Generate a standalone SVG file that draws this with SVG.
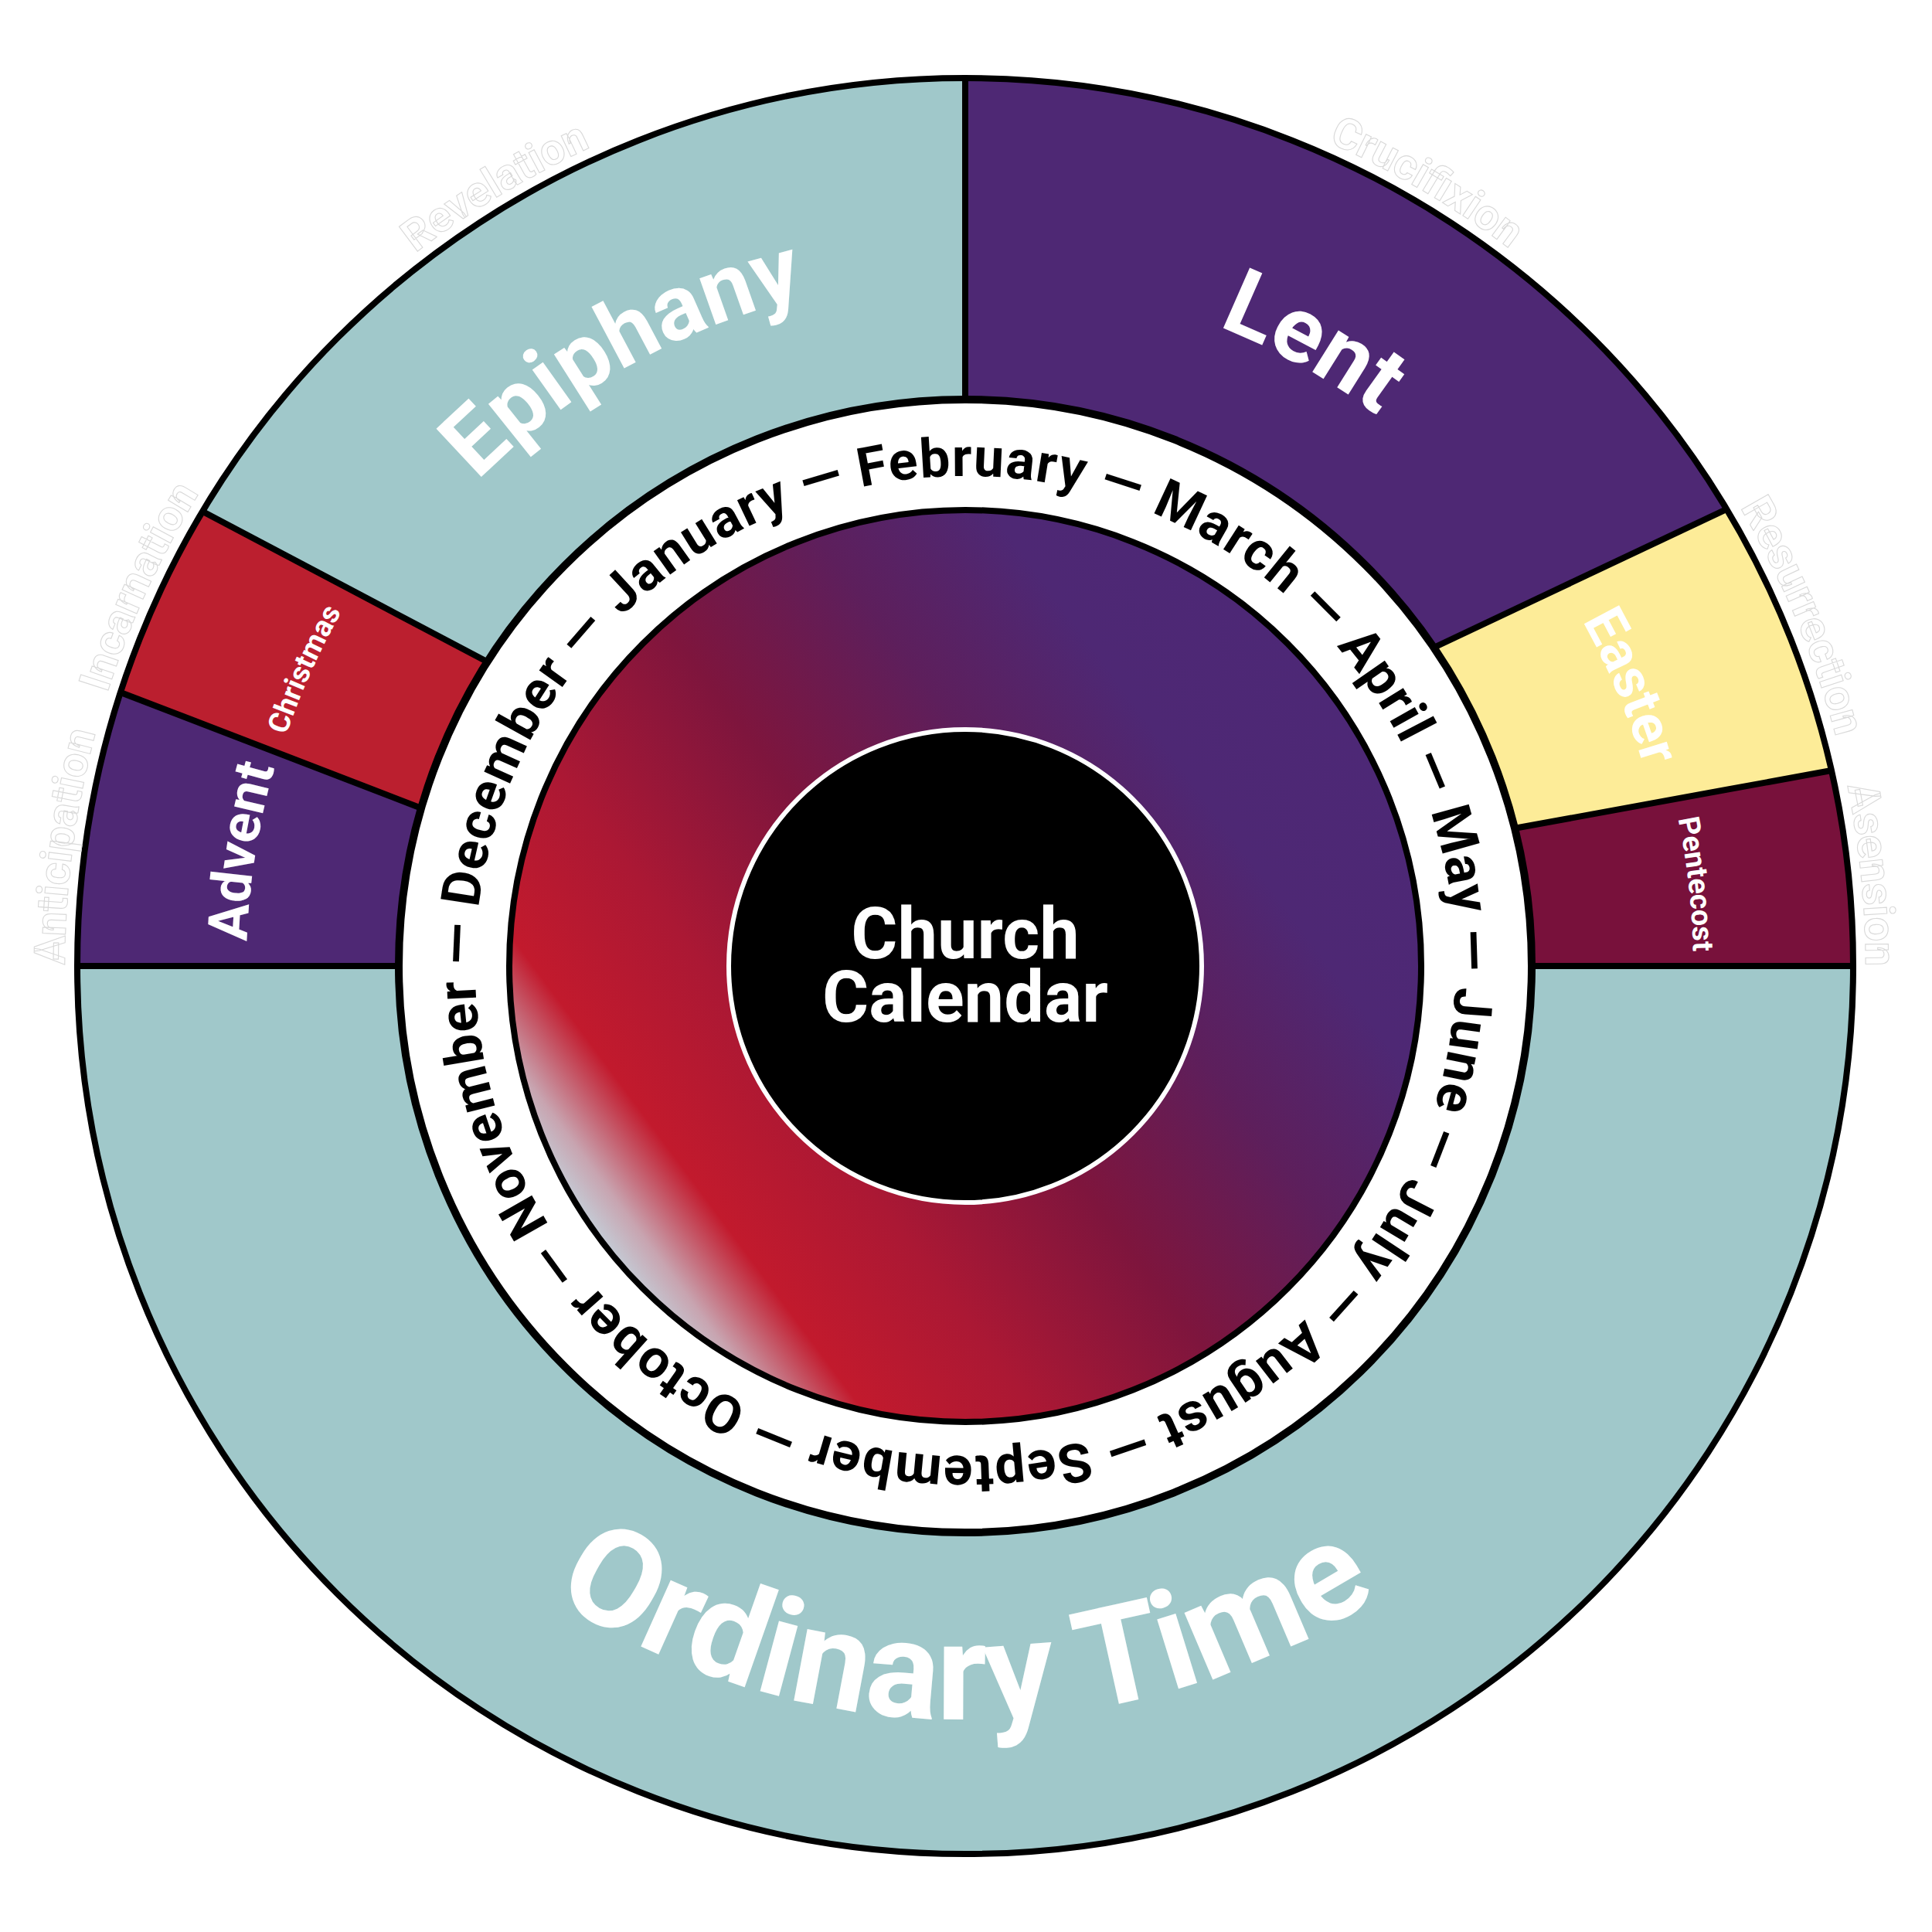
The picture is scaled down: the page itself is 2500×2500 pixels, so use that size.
<svg xmlns="http://www.w3.org/2000/svg" width="2500" height="2500" viewBox="0 0 2500 2500">
<style>
.lbl{font-family:Roboto,"Liberation Sans",sans-serif;font-weight:700;fill:#fff}
.ghost{font-family:Roboto,"Liberation Sans",sans-serif;font-weight:700;font-size:56px;fill:#fff;stroke:#d9d9d9;stroke-width:1.1}
.div{stroke:#000;stroke-width:8;fill:none}
.month{font-family:Roboto,"Liberation Sans",sans-serif;font-weight:700;font-size:70px;fill:#000}
</style>
<defs>
<linearGradient id="grad" gradientUnits="userSpaceOnUse" x1="775" y1="1602" x2="1723" y2="898">
<stop offset="0" stop-color="#c4ccd6"/>
<stop offset="0.04" stop-color="#c8a4b0"/>
<stop offset="0.12" stop-color="#c21a2d"/>
<stop offset="0.27" stop-color="#ab1834"/>
<stop offset="0.46" stop-color="#7e153d"/>
<stop offset="0.65" stop-color="#5d1f5c"/>
<stop offset="0.82" stop-color="#4e2874"/>
<stop offset="1" stop-color="#4d2876"/>
</linearGradient>
<path id="c890" d="M1249,2140 A890,890 0 1 1 1249,360 A890,890 0 1 1 1249,2140"/>
<path id="c915" d="M1249,2165 A915,915 0 1 1 1249,335 A915,915 0 1 1 1249,2165"/>
<path id="c930" d="M1249,2180 A930,930 0 1 1 1249,320 A930,930 0 1 1 1249,2180"/>
<path id="c928" d="M1249,2178 A928,928 0 1 1 1249,322 A928,928 0 1 1 1249,2178"/>
<path id="c942" d="M1249,2192 A942,942 0 1 1 1249,308 A942,942 0 1 1 1249,2192"/>
<path id="c1165" d="M1249,2415 A1165,1165 0 1 1 1249,85 A1165,1165 0 1 1 1249,2415"/>
<path id="ccw975" d="M1249,275 A975,975 0 1 0 1249,2225 A975,975 0 1 0 1249,275"/>
<path id="ring" d="M804.6,797.8 A634,634 0 1 1 1693.4,1702.2 A634,634 0 1 1 804.6,797.8"/>
</defs>
<rect width="2500" height="2500" fill="#fff"/>

<g id="ordinary-time">
<circle cx="1249" cy="1250" r="1149" fill="#a0c8ca"/>
<text class="lbl" font-size="178"><textPath href="#ccw975" startOffset="50%" text-anchor="middle">Ordinary Time</textPath></text>
</g>
<g id="epiphany">
<text class="lbl" font-size="120"><textPath href="#c890" startOffset="41.86%" text-anchor="middle">Epiphany</textPath></text>
</g>
<g id="lent">
<path d="M1249,101 A1149,1149 0 0 1 2234.3,658.8 L1855.3,838 L1665.8,927.6 L1249,927.6 Z" fill="#4e2874"/>
<text class="lbl" font-size="120"><textPath href="#c890" startOffset="58.11%" text-anchor="middle">Lent</textPath></text>
</g>
<g id="easter">
<path d="M2234.3,658.8 A1149,1149 0 0 1 2369.8,997 L1960,1071.9 L1755.1,1109.4 L1665.8,927.6 L1855.3,838 Z" fill="#fdec98"/>
<text class="lbl" font-size="72"><textPath href="#c915" startOffset="68.67%" text-anchor="middle">Easter</textPath></text>
</g>
<g id="pentecost">
<path d="M2369.8,997 A1149,1149 0 0 1 2398,1250 L1755.1,1250 L1755.1,1109.4 L1960,1071.9 Z" fill="#78113b"/>
<text class="lbl" font-size="38"><textPath href="#c942" startOffset="73.22%" text-anchor="middle">Pentecost</textPath></text>
</g>
<g id="advent">
<path d="M100,1250 A1149,1149 0 0 1 156,895.9 L545,1045.7 L739.5,1120.6 L739.5,1250 Z" fill="#4e2874"/>
<text class="lbl" font-size="72"><textPath href="#c930" startOffset="27.5%" text-anchor="middle">Advent</textPath></text>
</g>
<g id="christmas">
<path d="M156,895.9 A1149,1149 0 0 1 262,661.7 L630.6,856.4 L814.9,953.8 L739.5,1120.6 L545,1045.7 Z" fill="#bb1f2f"/>
<text class="lbl" font-size="38"><textPath href="#c928" startOffset="31.72%" text-anchor="middle">Christmas</textPath></text>
</g>

<g id="connectors">
<line class="div" x1="1249" y1="101" x2="1249" y2="530"/>
<line class="div" x1="2234.3" y1="658.8" x2="1850" y2="840.5"/>
<line class="div" x1="2369.8" y1="997" x2="1955" y2="1072.8"/>
<line class="div" x1="2398" y1="1250" x2="1975" y2="1250"/>
<line class="div" x1="100" y1="1250" x2="523" y2="1250"/>
<line class="div" x1="156" y1="895.9" x2="552" y2="1048.4"/>
<line class="div" x1="262" y1="661.7" x2="637" y2="859.8"/>
<circle cx="1249" cy="1250" r="1149" class="div"/>
</g>

<g id="ghost-words">
<text class="ghost"><textPath href="#c1165" startOffset="41.36%" text-anchor="middle">Revelation</textPath></text>
<text class="ghost"><textPath href="#c1165" startOffset="58.47%" text-anchor="middle">Crucifixion</textPath></text>
<text class="ghost"><textPath href="#c1165" startOffset="68.7%" text-anchor="middle">Resurrection</textPath></text>
<text class="ghost"><textPath href="#c1165" startOffset="73.4%" text-anchor="middle">Asension</textPath></text>
<text class="ghost"><textPath href="#c1165" startOffset="27.1%" text-anchor="middle">Anticipation</textPath></text>
<text class="ghost"><textPath href="#c1165" startOffset="31.85%" text-anchor="middle">Incarnation</textPath></text>
</g>

<g id="months-ring">
<circle cx="1249" cy="1250" r="733" fill="#fff" stroke="#000" stroke-width="10"/>
<text class="month"><textPath href="#ring" textLength="3960" lengthAdjust="spacing">January — February — March — April — May — June — July — August — September — October — November — December —</textPath></text>
</g>

<g id="gradient-disc">
<circle cx="1249" cy="1250" r="590" fill="url(#grad)" stroke="#000" stroke-width="8"/>
</g>

<g id="center">
<circle cx="1249" cy="1250" r="306" fill="#000" stroke="#fff" stroke-width="6"/>
<text class="lbl" font-size="92" text-anchor="middle" x="1249" y="1240">Church</text>
<text class="lbl" font-size="92" text-anchor="middle" x="1249" y="1322">Calendar</text>
</g>
</svg>
